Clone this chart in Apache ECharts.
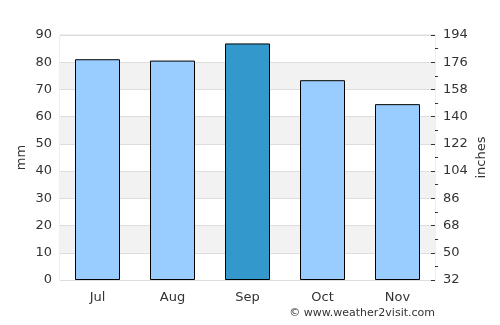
<!DOCTYPE html>
<html>
<head>
<meta charset="utf-8">
<script src="https://cdn.jsdelivr.net/npm/echarts@6/dist/echarts.min.js"></script>
<style>
  html, body { margin: 0; padding: 0; background: #fff; }
  #chart { width: 500px; height: 325px; }
</style>
</head>
<body>
<div id="chart"></div>
<script>
var months = ['Jul', 'Aug', 'Sep', 'Oct', 'Nov'];
var rainfall = [81.1, 80.6, 86.9, 73.4, 64.6];
var highlight = 2; // Sep is drawn darker
var rightMin = 32, rightMax = 194, rightStep = 18;

var barData = rainfall.map(function (v, i) {
    return {
        value: v,
        itemStyle: { color: i === highlight ? '#3399cc' : '#99ccff' }
    };
});

var labelFont = { fontFamily: 'DejaVu Sans', fontSize: 13, color: '#333' };

var option = {
    backgroundColor: '#fff',
    animation: false,
    grid: {
        left: 60, right: 65, top: 35, bottom: 45,
        show: true,
        borderColor: '#ddd',
        borderWidth: 1
    },
    graphic: [{
        type: 'text',
        right: 65,
        top: 308,
        style: {
            text: '\u00a9 www.weather2visit.com',
            fontFamily: 'DejaVu Sans',
            fontSize: 11,
            fill: '#333'
        }
    }],
    xAxis: {
        type: 'category',
        data: months,
        axisLine: { lineStyle: { color: '#ddd' } },
        axisTick: { show: false },
        axisLabel: Object.assign({ margin: 11 }, labelFont)
    },
    yAxis: [
        {
            type: 'value',
            min: 0,
            max: 90,
            interval: 10,
            name: 'mm',
            nameLocation: 'middle',
            nameGap: 32,
            nameMoveOverlap: false,
            nameTextStyle: labelFont,
            axisLine: { show: false },
            axisTick: { show: false },
            axisLabel: Object.assign({ margin: 8 }, labelFont),
            splitLine: { lineStyle: { color: '#ddd' } },
            splitArea: { show: true, areaStyle: { color: ['#fff', '#f2f2f2'] } }
        },
        {
            type: 'value',
            min: rightMin,
            max: rightMax,
            interval: rightStep,
            name: 'inches',
            nameLocation: 'middle',
            nameGap: 40,
            nameMoveOverlap: false,
            nameTextStyle: labelFont,
            axisLine: { show: false },
            axisTick: { show: true, inside: true, length: 4, lineStyle: { color: '#333' } },
            minorTick: { show: true, splitNumber: 2, length: -3, lineStyle: { color: '#333' } },
            axisLabel: Object.assign({ margin: 8 }, labelFont),
            splitLine: { show: false }
        }
    ],
    series: [{
        type: 'bar',
        yAxisIndex: 0,
        barWidth: '60%',
        itemStyle: { borderColor: '#000', borderWidth: 1 },
        data: barData
    }]
};

var myChart = echarts.init(document.getElementById('chart'));
myChart.setOption(option);
</script>
</body>
</html>
